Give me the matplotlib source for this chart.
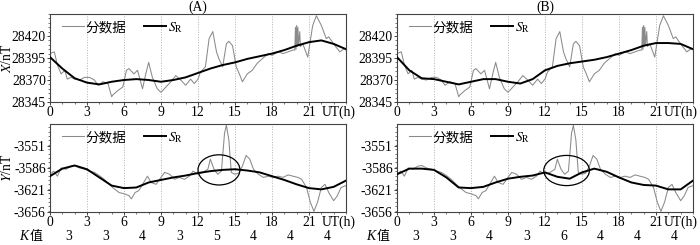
import matplotlib
matplotlib.use('Agg')
import matplotlib.pyplot as plt
from matplotlib.patches import Ellipse
from matplotlib.ticker import MultipleLocator

plt.rcParams['font.family'] = ['Liberation Serif', 'Noto Sans CJK SC']
plt.rcParams['mathtext.fontset'] = 'stix'
plt.rcParams['axes.unicode_minus'] = False

###############################################################################
# data
# minute data, X component (same for both panels)
tx = [0.0, 0.35, 0.6, 0.9, 1.2, 1.4, 1.7, 2.0, 2.4, 2.8, 3.2, 3.6, 3.9, 4.3,
      4.7, 5.0, 5.1, 5.5, 5.9, 6.2, 6.4, 6.8, 7.1, 7.5, 7.8, 8.0, 8.3, 8.7,
      9.0, 9.4, 9.8, 10.2, 10.6, 11.0, 11.4, 11.7, 12.0, 12.2, 12.6, 12.9,
      13.2, 13.5, 13.7, 14.0, 14.3, 14.5, 14.8, 15.1, 15.35, 15.6, 16.0, 16.4,
      16.8, 17.2, 17.7, 18.0, 18.5, 18.9, 19.3, 19.7, 19.85, 19.9, 19.95,
      20.0, 20.05, 20.1, 20.15, 20.25, 20.3, 20.5, 20.9, 21.3, 21.6, 22.0,
      22.4, 22.6, 23.1, 23.5, 23.9, 24.0]
x_min = [28400, 28402, 28387, 28377, 28381, 28371, 28373, 28371, 28370, 28373,
         28373, 28370, 28364, 28368, 28366, 28351, 28353, 28358, 28362, 28381,
         28383, 28377, 28381, 28360, 28379, 28390, 28373, 28360, 28356, 28362,
         28368, 28375, 28370, 28364, 28371, 28366, 28371, 28379, 28385, 28417,
         28425, 28402, 28394, 28385, 28411, 28414, 28409, 28385, 28377, 28368,
         28377, 28381, 28389, 28394, 28400, 28398, 28402, 28400, 28402, 28404,
         28404, 28430, 28405, 28432, 28408, 28430, 28410, 28425, 28408, 28411,
         28396, 28432, 28443, 28432, 28417, 28419, 28409, 28402, 28406, 28405]

# minute data, Y component (same for both panels)
ty = [0.0, 0.3, 0.6, 0.9, 1.3, 1.7, 2.0, 2.4, 2.8, 3.2, 3.6, 4.0, 4.4, 4.8,
      5.2, 5.6, 6.0, 6.4, 6.6, 6.9, 7.2, 7.6, 7.9, 8.2, 8.6, 9.0, 9.3, 9.7,
      10.1, 10.5, 10.9, 11.3, 11.6, 12.0, 12.4, 12.8, 13.0, 13.3, 13.6, 13.9,
      14.15, 14.3, 14.5, 14.7, 15.0, 15.3, 15.6, 15.9, 16.2, 16.5, 16.9, 17.3,
      17.7, 18.1, 18.5, 18.9, 19.3, 19.7, 20.1, 20.4, 20.8, 21.1, 21.4, 21.7,
      22.0, 22.3, 22.6, 23.0, 23.3, 23.6, 24.0]
y_min = [-3596, -3591, -3599, -3586, -3588, -3583, -3582, -3586, -3588, -3591,
         -3593, -3598, -3604, -3612, -3619, -3625, -3627, -3630, -3635, -3625,
         -3622, -3609, -3599, -3609, -3612, -3601, -3593, -3596, -3604, -3601,
         -3604, -3599, -3591, -3596, -3593, -3588, -3572, -3588, -3596, -3591,
         -3531, -3518, -3541, -3593, -3596, -3594, -3583, -3566, -3572, -3588,
         -3596, -3601, -3599, -3601, -3599, -3601, -3597, -3599, -3601, -3604,
         -3617, -3640, -3655, -3640, -3617, -3612, -3625, -3638, -3630, -3617,
         -3614]

# S_R curves, hourly
hours = list(range(25))
sr_x_a = [28396, 28383, 28372, 28367, 28365, 28368, 28370, 28371, 28370,
          28368, 28370, 28373, 28378, 28383, 28387, 28390, 28394, 28397,
          28400, 28404, 28409, 28413, 28415, 28411, 28405]
sr_x_b = [28396, 28381, 28372, 28371, 28368, 28365, 28368, 28371, 28371,
          28368, 28366, 28371, 28381, 28386, 28389, 28391, 28393, 28396,
          28400, 28404, 28409, 28412, 28412, 28411, 28405]
sr_y_a = [-3599, -3587, -3582, -3588, -3601, -3614, -3618, -3617, -3609,
          -3605, -3601, -3598, -3594, -3591, -3589, -3588, -3590, -3593,
          -3599, -3605, -3612, -3618, -3620, -3616, -3606]
sr_y_b = [-3596, -3587, -3587, -3589, -3601, -3617, -3618, -3616, -3609,
          -3603, -3600, -3598, -3593, -3600, -3603, -3593, -3587, -3592,
          -3601, -3609, -3613, -3614, -3620, -3620, -3606]

k_hours = [1.5, 4.5, 7.5, 10.5, 13.5, 16.5, 19.5, 22.5]
k_a = [3, 3, 4, 3, 5, 4, 4, 4]
k_b = [3, 3, 4, 3, 6, 4, 4, 4]

x_ticks = [28345, 28370, 28395, 28420]
y_ticks = [-3656, -3621, -3586, -3551]
t_ticks = [0, 3, 6, 9, 12, 15, 18, 21]
###############################################################################

W, H = 700, 245
FS = 9.8
fig = plt.figure(figsize=(7, 2.45), dpi=100)

grey = '#8a8a8a'
spine_c = '#444444'


def setup(ax, ylim, yticks, ut_x):
    ax.set_xlim(0, 24)
    ax.set_ylim(ylim)
    ax.set_yticks(yticks)
    ax.set_xticks(t_ticks)
    ax.xaxis.set_minor_locator(MultipleLocator(1))
    ax.yaxis.set_minor_locator(MultipleLocator((yticks[1] - yticks[0]) / 5))
    ax.tick_params(axis='both', which='major', labelsize=FS, length=2.2,
                   width=0.7, color=spine_c, pad=0.8)
    ax.tick_params(axis='both', which='minor', length=1.4, width=0.5,
                   color=spine_c)
    for s in ax.spines.values():
        s.set_color(spine_c)
        s.set_linewidth(0.8)
    for t in t_ticks[1:]:
        ax.axvline(t, color='#b0b0b0', linestyle=':', linewidth=0.7, zorder=0)
    ax.text(ut_x, -0.045, 'UT(h)', transform=ax.get_xaxis_transform(),
            ha='left', va='top', fontsize=FS)


def add_legend(ax, h1, h2):
    ax.legend([h1, h2], ['分数据', '$S_\\mathrm{R}$'], loc='upper left',
              ncol=2, frameon=False, fontsize=FS, handlelength=1.6,
              handletextpad=0.15, columnspacing=1.3, borderaxespad=0,
              borderpad=0, bbox_to_anchor=(0.04, 0.93))


panels = [
    (50, sr_x_a, sr_y_a, k_a, '(A)', (13.7, -3589), 3.4, 22.0),
    (397, sr_x_b, sr_y_b, k_b, '(B)', (13.75, -3590), 3.7, 21.65),
]

for left, srx, sry, kv, title, ell_c, ell_w, ut_x in panels:
    width = 296
    ax1 = fig.add_axes([left / W, (H - 102) / H, width / W, 88 / H])
    ax2 = fig.add_axes([left / W, (H - 212) / H, width / W, 88 / H])

    l1, = ax1.plot(tx, x_min, color=grey, linewidth=0.75, zorder=2)
    l2, = ax1.plot(hours, srx, color='black', linewidth=1.4, zorder=3)
    setup(ax1, (28345, 28445), x_ticks, ut_x)
    add_legend(ax1, l1, l2)
    ax1.set_title(title, fontsize=FS, pad=1)

    m1, = ax2.plot(ty, y_min, color=grey, linewidth=0.75, zorder=2)
    m2, = ax2.plot(hours, sry, color='black', linewidth=1.4, zorder=3)
    setup(ax2, (-3656, -3516), y_ticks, ut_x)
    add_legend(ax2, m1, m2)
    ax2.add_patch(Ellipse(ell_c, ell_w, 48, fill=False, edgecolor='black',
                          linewidth=0.9, zorder=4))

    # K index row
    for h, k in zip(k_hours, kv):
        ax2.text(h, -0.2, str(k), transform=ax2.get_xaxis_transform(),
                 ha='center', va='top', fontsize=FS)
    ax2.text(-0.62, -0.2, '值', transform=ax2.get_xaxis_transform(),
             ha='right', va='top', fontsize=FS - 0.5,
             family='Noto Sans CJK SC')
    ax2.text(-1.75, -0.2, 'K', transform=ax2.get_xaxis_transform(),
             ha='right', va='top', fontsize=FS, style='italic')

    if left == 50:
        ax1.set_ylabel('$X$/nT', fontsize=FS)
        ax2.set_ylabel('$Y$/nT', fontsize=FS)
        ax1.yaxis.set_label_coords(-0.122, 0.5)
        ax2.yaxis.set_label_coords(-0.122, 0.5)

plt.savefig('out.png', dpi=100)
